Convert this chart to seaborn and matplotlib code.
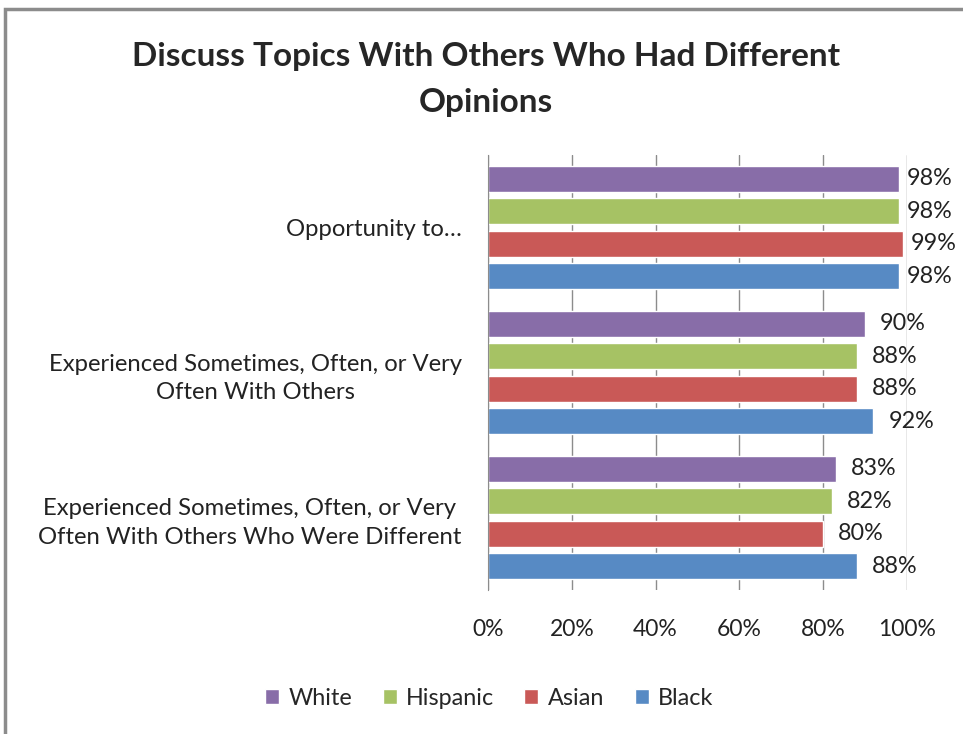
import numpy as np
import matplotlib.pyplot as plt
import pandas as pd
import seaborn as sns
from matplotlib.patches import Rectangle

# chart data
categories = ['Opportunity to…',
              'Experienced Sometimes, Often, or Very\nOften With Others',
              'Experienced Sometimes, Often, or Very\nOften With Others Who Were Different']
groups = ['White', 'Hispanic', 'Asian', 'Black']
white = [98, 90, 83]
hispanic = [98, 88, 82]
asian = [99, 88, 80]
black = [98, 92, 88]
ticks = [0, 20, 40, 60, 80, 100]

colors = ['#886DA8', '#A6C264', '#C95957', '#578AC4']

rows = []
for g, vals in zip(groups, [white, hispanic, asian, black]):
    for c, v in zip(categories, vals):
        rows.append({'category': c, 'group': g, 'value': v})
df = pd.DataFrame(rows)

sns.set_style('white')
plt.rcParams['font.family'] = ['Lato', 'DejaVu Sans']

fig = plt.figure(figsize=(9.63, 7.34), dpi=100)
ax = fig.add_axes([0.5067, 0.1962, 0.4351, 0.5926])

sns.barplot(data=df, x='value', y='category', hue='group', hue_order=groups,
            palette=colors, orient='h', width=0.9, gap=0.2, ax=ax,
            saturation=1, legend=True)

# data labels
for cont in ax.containers:
    for bar in cont:
        v = bar.get_width()
        y = bar.get_y() + bar.get_height() / 2
        x = v + (2.0 if v >= 95 else 3.6)
        ax.text(x, y, f'{v:.0f}%', va='center', ha='left', fontsize=16.8,
                color='#222222')

ax.set_xlim(0, 100)
ax.set_xticks(ticks)
ax.set_xticklabels([f'{t}%' for t in ticks], fontsize=16.5, color='#222222')
ax.tick_params(axis='x', length=0, pad=21)
ax.tick_params(axis='y', length=0, pad=19, labelsize=17.2, labelcolor='#222222')
for lab in ax.get_yticklabels():
    lab.set_multialignment('center')
    lab.set_linespacing(1.45)
ax.set_xlabel('')
ax.set_ylabel('')
ax.grid(axis='x', color='#8C8C8C', linewidth=1)
ax.set_axisbelow(True)
for s in ['top', 'right', 'bottom']:
    ax.spines[s].set_visible(False)
ax.spines['left'].set_color('#8C8C8C')

handles, labels = ax.get_legend_handles_labels()
ax.legend_.remove()
fig.legend(handles, labels, loc='center', bbox_to_anchor=(0.508, 0.049), ncol=4,
           frameon=False, fontsize=16.8, handlelength=0.6, handleheight=0.6,
           handletextpad=0.4, columnspacing=1.3)

fig.suptitle('Discuss Topics With Others Who Had Different\nOpinions',
             x=0.505, y=0.943, va='top', fontsize=24, fontweight='bold',
             linespacing=1.72)

# outer chart border (left and top only visible)
fig.patches.append(Rectangle((0.005, -0.1), 1.2, 1.088, transform=fig.transFigure,
                             fill=False, edgecolor='#8C8C8C', linewidth=2.5))

fig.savefig('out.png', dpi=100)
